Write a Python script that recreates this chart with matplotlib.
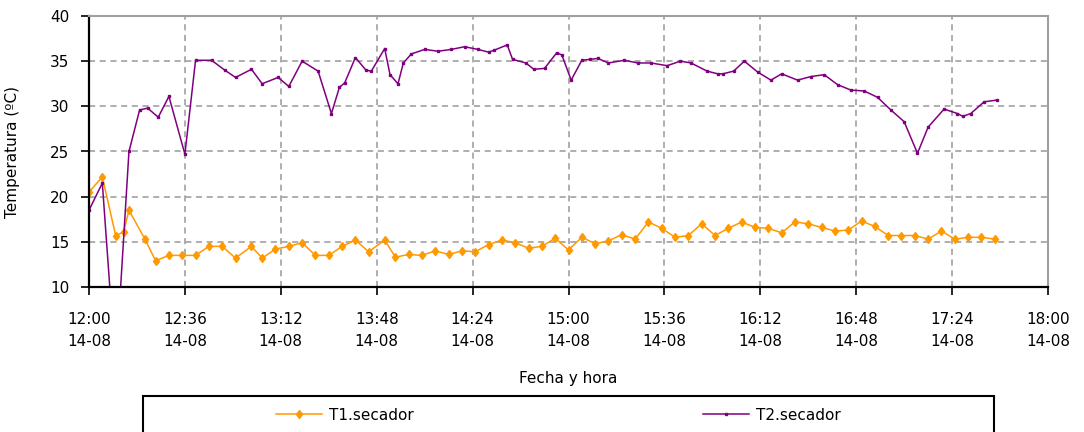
import matplotlib
matplotlib.use("Agg")
import matplotlib.pyplot as plt
from matplotlib.patches import Rectangle

# minutes after 12:00 on 14-08
t1_min = [0, 5, 10, 13, 15, 21, 25, 30, 35, 40, 45, 50, 55, 61, 65, 70, 75, 80, 85, 90,
          95, 100, 105, 111, 115, 120, 125, 130, 135, 140, 145, 150, 155, 160, 165, 170,
          175, 180, 185, 190, 195, 200, 205, 210, 215, 220, 225, 230, 235, 240, 245, 250,
          255, 260, 265, 270, 275, 280, 285, 290, 295, 300, 305, 310, 315, 320, 325, 330,
          335, 340]
t1_secador = [20.5, 22.2, 15.7, 16.1, 18.5, 15.3, 12.9, 13.5, 13.5, 13.5, 14.5, 14.5, 13.2,
              14.5, 13.2, 14.2, 14.5, 14.9, 13.5, 13.5, 14.5, 15.2, 13.9, 15.2, 13.3, 13.6,
              13.5, 14.0, 13.6, 14.0, 13.9, 14.7, 15.2, 14.9, 14.3, 14.5, 15.4, 14.1, 15.5,
              14.8, 15.1, 15.8, 15.3, 17.2, 16.5, 15.5, 15.7, 17.0, 15.7, 16.5, 17.2, 16.6,
              16.5, 16.0, 17.2, 17.0, 16.6, 16.2, 16.3, 17.3, 16.7, 15.7, 15.7, 15.7, 15.3,
              16.2, 15.3, 15.5, 15.5, 15.3]

t2_min = [0, 5, 10, 15, 19, 22, 26, 30, 36, 40, 46, 51, 55, 61, 65, 71, 75, 80, 86, 91,
          94, 96, 100, 104, 106, 111, 113, 116, 118, 121, 126, 131, 136, 141, 146, 150,
          152, 157, 159, 164, 167, 171, 175.5, 177.5, 181, 185, 188, 191, 195, 201, 206,
          211, 217, 222, 226, 232, 236, 238, 242, 246, 251, 256, 260, 266, 271, 276, 281,
          286, 291, 296, 301, 306, 311, 315, 321, 326, 328, 331, 336, 341]
t2_secador = [18.5, 21.5, 1.0, 25.0, 29.6, 29.8, 28.8, 31.1, 24.7, 35.1, 35.1, 34.0, 33.2,
              34.1, 32.5, 33.2, 32.2, 35.0, 33.9, 29.2, 32.1, 32.6, 35.4, 34.0, 33.9, 36.4,
              33.5, 32.5, 34.8, 35.8, 36.3, 36.1, 36.3, 36.6, 36.3, 36.0, 36.2, 36.8, 35.2,
              34.8, 34.1, 34.2, 35.9, 35.7, 32.9, 35.1, 35.2, 35.3, 34.8, 35.1, 34.8, 34.8,
              34.5, 35.0, 34.8, 33.9, 33.6, 33.6, 33.9, 35.0, 33.8, 32.9, 33.6, 32.9, 33.3,
              33.5, 32.4, 31.8, 31.7, 31.0, 29.6, 28.3, 24.8, 27.7, 29.7, 29.2, 28.9, 29.2,
              30.5, 30.7]

tick_min = [0, 36, 72, 108, 144, 180, 216, 252, 288, 324, 360]
tick_labels = ["12:00\n14-08", "12:36\n14-08", "13:12\n14-08", "13:48\n14-08",
               "14:24\n14-08", "15:00\n14-08", "15:36\n14-08", "16:12\n14-08",
               "16:48\n14-08", "17:24\n14-08", "18:00\n14-08"]

W, H = 1084, 432
fig = plt.figure(figsize=(W / 100, H / 100), dpi=100)
ax = fig.add_axes([89 / W, 1 - 287 / H, (1048 - 89) / W, (287 - 16) / H])

orange = "#FF9900"
purple = "#800080"

l1, = ax.plot(t1_min, t1_secador, color=orange, lw=1.1, marker="d", ms=4.5,
              label="T1.secador")
l2, = ax.plot(t2_min, t2_secador, color=purple, lw=1.1, marker="s", ms=2,
              label="T2.secador")

ax.set_xlim(0, 360)
ax.set_ylim(10, 40)
ax.set_yticks(range(10, 41, 5))
ax.set_xticks(tick_min)
ax.set_xticklabels(tick_labels, linespacing=1.55)
ax.tick_params(axis="both", direction="out", length=6, width=1.2, labelsize=11,
               colors="black")
ax.tick_params(axis="x", pad=12)
ax.tick_params(axis="y", pad=8)

ax.grid(True, color="#999999", linestyle=(0, (4, 3)), lw=1.1)
ax.set_axisbelow(True)

for s in ["left", "bottom"]:
    ax.spines[s].set_color("black")
    ax.spines[s].set_linewidth(1.6)
for s in ["top", "right"]:
    ax.spines[s].set_color("#a0a0a0")
    ax.spines[s].set_linewidth(1.5)

ax.set_ylabel("Temperatura (ºC)", fontsize=11)
ax.yaxis.set_label_coords(-0.072, 0.5)
ax.set_xlabel("Fecha y hora", fontsize=11)
ax.xaxis.set_label_coords(0.5, (287 - 378) / 271)
ax.xaxis.label.set_va("center")

# legend box (runs off the bottom edge like the original)
fig.add_artist(Rectangle((143 / W, -0.05), (994 - 143) / W, 1 - 396 / H + 0.05,
                         transform=fig.transFigure, fill=False, ec="black", lw=1.5))
leg_y = 1 - 415 / H
fig.legend(handles=[l1], loc="center left", bbox_to_anchor=(276 / W, leg_y),
           frameon=False, fontsize=11, handlelength=3.0, handletextpad=0.5,
           borderpad=0, borderaxespad=0)
fig.legend(handles=[l2], loc="center left", bbox_to_anchor=(703 / W, leg_y),
           frameon=False, fontsize=11, handlelength=3.0, handletextpad=0.5,
           borderpad=0, borderaxespad=0)

fig.savefig("out.png", dpi=100)
